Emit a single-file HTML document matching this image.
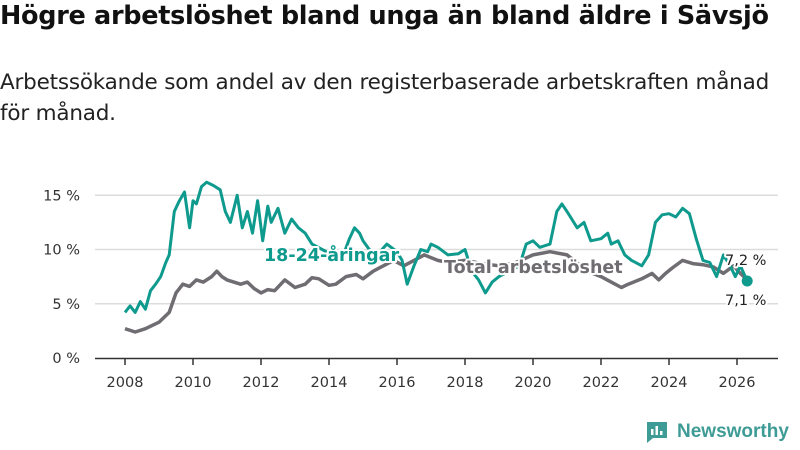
<!DOCTYPE html>
<html><head><meta charset="utf-8"><style>
body{margin:0;background:#fff;font-family:"DejaVu Sans","Liberation Sans",sans-serif;}
#wrap{position:relative;width:800px;height:450px;overflow:hidden;}
h1{position:absolute;left:0;top:1px;margin:0;font-size:25.5px;font-weight:bold;color:#111;white-space:nowrap;letter-spacing:-0.3px;}
p.sub{position:absolute;left:0;top:67px;margin:0;font-size:21.5px;line-height:31px;color:#222;width:800px;letter-spacing:-0.2px;white-space:nowrap;}
svg text{font-family:"DejaVu Sans","Liberation Sans",sans-serif;}
</style></head><body>
<div id="wrap">
<h1>Högre arbetslöshet bland unga än bland äldre i Sävsjö</h1>
<p class="sub">Arbetssökande som andel av den registerbaserade arbetskraften månad<br>för månad.</p>
<svg id="chart" width="800" height="450" style="position:absolute;left:0;top:0"></svg>
</div>
<script>
const yTicks=[0,5,10,15];
const yTickLabels=["0 %","5 %","10 %","15 %"];
const xTicks=[2008,2010,2012,2014,2016,2018,2020,2022,2024,2026];
const youthDates=[2008.0,2008.15,2008.3,2008.45,2008.6,2008.75,2008.9,2009.05,2009.2,2009.3,2009.45,2009.6,2009.75,2009.9,2010.0,2010.1,2010.25,2010.4,2010.6,2010.8,2010.95,2011.1,2011.3,2011.45,2011.6,2011.75,2011.9,2012.05,2012.2,2012.3,2012.5,2012.7,2012.9,2013.1,2013.3,2013.5,2013.8,2014.1,2014.4,2014.6,2014.75,2014.9,2015.0,2015.3,2015.5,2015.7,2016.0,2016.15,2016.3,2016.5,2016.7,2016.9,2017.0,2017.2,2017.5,2017.8,2018.0,2018.2,2018.4,2018.6,2018.8,2019.0,2019.3,2019.6,2019.8,2020.0,2020.2,2020.5,2020.7,2020.85,2021.0,2021.3,2021.5,2021.7,2022.0,2022.2,2022.3,2022.5,2022.7,2022.9,2023.2,2023.4,2023.6,2023.8,2024.0,2024.2,2024.4,2024.6,2024.8,2025.0,2025.2,2025.4,2025.6,2025.8,2025.95,2026.1,2026.3];
const youthValues=[4.2,4.8,4.2,5.2,4.5,6.2,6.8,7.5,8.8,9.5,13.5,14.5,15.3,12.0,14.5,14.2,15.8,16.2,15.9,15.5,13.5,12.5,15.0,12.0,13.5,11.5,14.5,10.8,14.0,12.5,13.8,11.5,12.8,12.0,11.5,10.5,10.0,9.5,9.3,11.0,12.0,11.5,10.8,9.5,9.8,10.5,9.8,9.0,6.8,8.5,10.0,9.8,10.5,10.2,9.5,9.6,10.0,8.0,7.2,6.0,7.0,7.5,8.0,8.5,10.5,10.8,10.2,10.5,13.5,14.2,13.5,12.0,12.5,10.8,11.0,11.5,10.5,10.8,9.5,9.0,8.5,9.5,12.5,13.2,13.3,13.0,13.8,13.3,11.0,9.0,8.8,7.5,9.5,8.5,7.5,8.5,7.1];
const totalDates=[2008.0,2008.3,2008.6,2009.0,2009.3,2009.5,2009.7,2009.9,2010.1,2010.3,2010.55,2010.7,2010.85,2011.0,2011.2,2011.4,2011.6,2011.8,2012.0,2012.2,2012.4,2012.7,2013.0,2013.3,2013.5,2013.7,2014.0,2014.2,2014.5,2014.8,2015.0,2015.3,2015.6,2015.9,2016.2,2016.5,2016.8,2017.2,2017.5,2018.0,2018.5,2019.0,2019.5,2020.0,2020.5,2021.0,2021.6,2022.0,2022.3,2022.6,2022.8,2023.2,2023.5,2023.7,2023.9,2024.1,2024.4,2024.7,2025.0,2025.3,2025.6,2025.9,2026.1,2026.3];
const totalValues=[2.7,2.4,2.7,3.3,4.2,6.0,6.8,6.6,7.2,7.0,7.5,8.0,7.5,7.2,7.0,6.8,7.0,6.4,6.0,6.3,6.2,7.2,6.5,6.8,7.4,7.3,6.7,6.8,7.5,7.7,7.3,8.0,8.5,9.0,8.5,9.0,9.5,9.0,8.8,9.0,8.7,8.5,8.8,9.5,9.8,9.5,8.0,7.5,7.0,6.5,6.8,7.3,7.8,7.2,7.8,8.3,9.0,8.7,8.6,8.4,7.8,8.5,7.8,7.2];
const NS="http://www.w3.org/2000/svg";
const svg=document.getElementById('chart');
const x=v=>125+(v-2008)*34;
const y=v=>358-v*10.85;
function mk(t,a){const e=document.createElementNS(NS,t);for(const k in a)e.setAttribute(k,a[k]);svg.appendChild(e);return e;}
yTicks.forEach((t,i)=>{
 if(t>0){const g=mk('line',{x1:95,x2:778,y1:y(t),y2:y(t),stroke:'#dcdcdc','stroke-width':1.5});
 
 }
 const l=mk('text',{x:80,y:y(t)+5,'text-anchor':'end','font-size':14.5,fill:'#333'});l.textContent=yTickLabels[i];
 
 
});
const ax=mk('line',{x1:95,x2:778,y1:358.5,y2:358.5,stroke:'#333','stroke-width':1.5});


xTicks.forEach(t=>{
 const tk=mk('line',{x1:x(t),x2:x(t),y1:358,y2:365,stroke:'#333','stroke-width':1.5});
 
 
 const l=mk('text',{x:x(t),y:387,'text-anchor':'middle','font-size':14.5,fill:'#333'});l.textContent=t;
 
 
});
function path(d,v){return d.map((dd,i)=>(i?'L':'M')+x(dd).toFixed(1)+','+y(v[i]).toFixed(1)).join('');}
const tl=mk('path',{d:path(totalDates,totalValues),fill:'none',stroke:'#6f6c72','stroke-width':3.5,'stroke-linejoin':'round'});


const yl=mk('path',{d:path(youthDates,youthValues),fill:'none',stroke:'#0f9a8e','stroke-width':3,'stroke-linejoin':'round'});


const dot=mk('circle',{cx:x(youthDates[youthDates.length-1]),cy:y(youthValues[youthValues.length-1]),r:5.5,fill:'#0f9a8e'});


function lab(txt,xx,yy,col,sz,w,name){
 const h=mk('text',{x:xx,y:yy,'font-size':sz,'font-weight':w,fill:'none',stroke:'#fff','stroke-width':4,'stroke-linejoin':'round'});h.textContent=txt;
 
 
 const t=mk('text',{x:xx,y:yy,'font-size':sz,'font-weight':w,fill:col});t.textContent=txt;
 
 
}
lab('18-24-åringar',264,261,'#0f9a8e',17.5,'bold','youth-series-label');
lab('Total arbetslöshet',444,273,'#6f6c72',17.5,'bold','total-series-label');
lab('7,2 %',725,265,'#222',14.5,'normal','total-value-label');
lab('7,1 %',725,305,'#222',14.5,'normal','youth-value-label');
</script>
<div style="position:absolute;left:645px;top:420px;display:flex;align-items:center;">
 <svg width="24" height="24" viewBox="0 0 24 24"><path d="M2 2h20v16H8l-6 5z" fill="#3f9b95"/><rect x="6" y="9" width="2.5" height="6" fill="#fff"/><rect x="10.5" y="6" width="2.5" height="9" fill="#fff"/><rect x="15" y="11" width="2.5" height="4" fill="#fff"/></svg>
 <span style="margin-left:8px;font-size:19px;font-weight:bold;color:#3f9b95;font-family:'Liberation Sans',sans-serif;">Newsworthy</span>
</div>
</body></html>
